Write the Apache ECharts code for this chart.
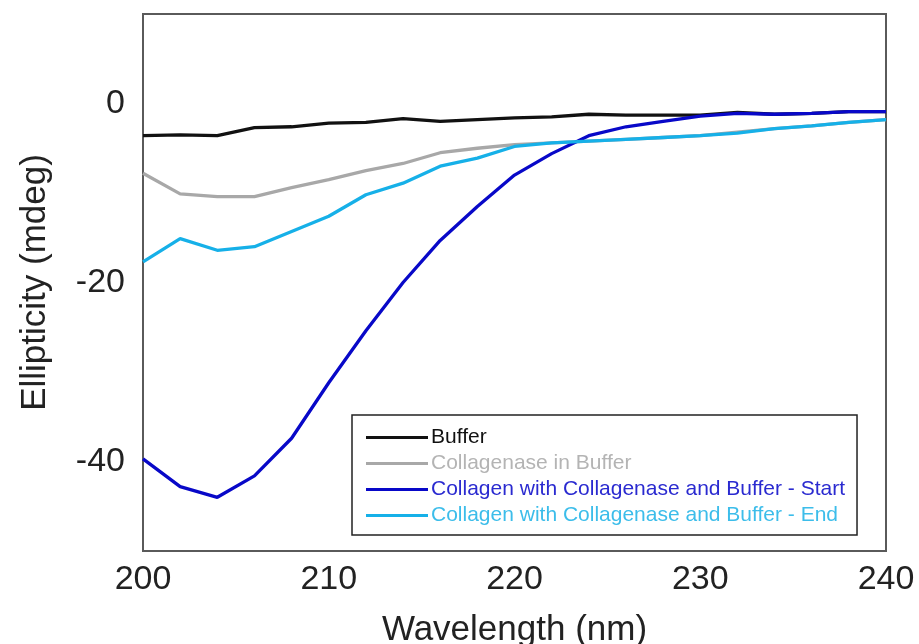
<!DOCTYPE html>
<html>
<head>
<meta charset="utf-8">
<script src="https://cdn.jsdelivr.net/npm/echarts@6/dist/echarts.min.js"></script>
<style>
html,body{margin:0;padding:0;background:#fff;}
#chart{width:919px;height:644px;}
</style>
</head>
<body>
<div id="chart"></div>
<script>
var wavelength = [200,202,204,206,208,210,212,214,216,218,220,222,224,226,228,230,232,234,236,238,240];
var buffer = [-3.6,-3.5,-3.6,-2.7,-2.6,-2.2,-2.1,-1.7,-2.0,-1.8,-1.6,-1.5,-1.2,-1.3,-1.3,-1.3,-1.0,-1.2,-1.1,-0.9,-0.9];
var collagenaseInBuffer = [-7.8,-10.1,-10.4,-10.4,-9.4,-8.5,-7.5,-6.7,-5.5,-5.0,-4.6,-4.4,-4.2,-4.0,-3.8,-3.6,-3.2,-2.8,-2.5,-2.1,-1.8];
var collagenStart = [-39.7,-42.8,-44.0,-41.6,-37.4,-31.2,-25.4,-20.0,-15.3,-11.5,-8.0,-5.6,-3.6,-2.6,-2.0,-1.4,-1.1,-1.2,-1.1,-0.9,-0.9];
var collagenEnd = [-17.7,-15.1,-16.4,-16.0,-14.3,-12.6,-10.2,-8.9,-7.0,-6.1,-4.8,-4.4,-4.2,-4.0,-3.8,-3.6,-3.3,-2.8,-2.5,-2.1,-1.8];
var seriesNames = ['Buffer','Collagenase in Buffer','Collagen with Collagenase and Buffer - Start','Collagen with Collagenase and Buffer - End'];
var seriesColors = ['#111111','#a8a8a8','#0808c8','#16b0e8'];
var legendTextColors = ['#111111','#b4b4b4','#2a2ad0','#3cbdea'];
var xTicks = [200,210,220,230,240];

var FONT = "'Liberation Sans', Arial, Helvetica, sans-serif";
function pairs(ys){ return wavelength.map(function(x,i){ return [x, ys[i]]; }); }
var allData = [buffer, collagenaseInBuffer, collagenStart, collagenEnd];

var chart = echarts.init(document.getElementById('chart'));
chart.setOption({
  animation: false,
  backgroundColor: '#fff',
  grid: { left: 143, right: 33, top: 14, bottom: 93, outerBoundsMode: 'none', containLabel: false,
    show: true, borderColor: '#5a5a5a', borderWidth: 2, backgroundColor: 'transparent' },
  xAxis: {
    type: 'value', min: 200, max: 240, interval: 10,
    name: 'Wavelength (nm)', nameLocation: 'middle', nameGap: 62,
    nameTextStyle: { fontSize: 35, color: '#222', fontFamily: FONT },
    axisLine: { show: true, onZero: false, lineStyle: { color: '#5a5a5a', width: 2 } },
    axisTick: { show: false },
    splitLine: { show: false },
    axisLabel: { fontSize: 34, color: '#222', margin: 12, fontFamily: FONT,
      formatter: function(v){ return xTicks.indexOf(v) >= 0 ? String(v) : ''; } }
  },
  yAxis: {
    type: 'value', min: -50, max: 10, interval: 10,
    name: 'Ellipticity (mdeg)', nameLocation: 'middle', nameGap: 90, nameRotate: 90,
    nameTextStyle: { fontSize: 35, color: '#222', fontFamily: FONT },
    axisLine: { show: true, onZero: false, lineStyle: { color: '#5a5a5a', width: 2 } },
    axisTick: { show: false },
    splitLine: { show: false },
    axisLabel: { fontSize: 34, color: '#222', margin: 18, fontFamily: FONT,
      formatter: function(v){ return (v % 20 === 0 && v <= 0 && v >= -40) ? String(v) : ''; } }
  },
  legend: {
    orient: 'vertical', left: 352, top: 415,
    padding: [12, 12, 9, 14],
    itemGap: 5, itemWidth: 62, itemHeight: 3, icon: 'rect',
    borderColor: '#222', borderWidth: 1.5, backgroundColor: '#fff',
    textStyle: { fontSize: 21, fontFamily: FONT, padding: [0,0,0,-2], lineHeight: 21 },
    data: seriesNames.map(function(n,i){ return { name: n, textStyle: { color: legendTextColors[i] } }; })
  },
  series: seriesNames.map(function(n,i){
    return {
      name: n, type: 'line', data: pairs(allData[i]),
      showSymbol: false, symbol: 'none',
      lineStyle: { color: seriesColors[i], width: 3.3 },
      itemStyle: { color: seriesColors[i] },
      z: 2 + i
    };
  })
});
</script>
</body>
</html>
